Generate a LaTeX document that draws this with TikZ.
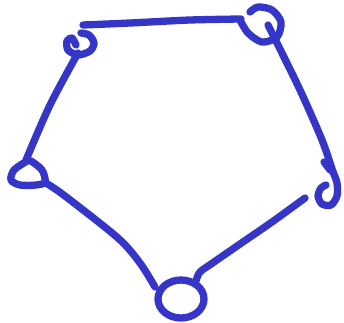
\documentclass[tikz,border=0pt]{standalone}
\definecolor{stift}{HTML}{3535C8}
\tikzset{strich/.style={draw=stift,line width=7.3pt,line cap=round,line join=round}}
\begin{document}
\begin{tikzpicture}[x=1pt,y=-1pt]
\useasboundingbox (0,0) rectangle (344,322);

% Mittelpunkt unten
\coordinate (unten) at (181,299);

% Kanten
\draw[strich] plot[smooth] coordinates {(83,25) (130,23) (190,20) (241,19)};
\draw[strich] plot[smooth] coordinates {(268,25) (276,41) (300,90) (322,140) (333,172)};
\draw[strich] plot[smooth] coordinates {(305,198) (272,222) (240,244) (214,262) (200,272) (196,281)};
\draw[strich] plot[smooth] coordinates {(155,287) (140,263) (118,238) (65,196) (46,183)};
\draw[strich] plot[smooth] coordinates {(26,160) (50,105) (78,53)};

% Schlaufen
\draw[strich] plot[smooth] coordinates {(76,45) (72,38) (67,41) (68,50) (78,55) (90,51) (94,43) (89,35) (81,33)};
\draw[strich] plot[smooth] coordinates {(240,20) (248,33) (262,42) (277,37) (281,22) (272,10) (258,7) (250,12)};
\draw[strich] plot[smooth] coordinates {(333,172) (337,183) (337,196) (331,205) (322,204) (318,196) (321,188) (326,185)};
\draw[strich] (324,162) -- (330,170);
\draw[strich] (unten) ellipse (23 and 19);
\draw[strich] plot[smooth] coordinates {(27,161) (14,170) (11,180) (20,185) (36,185) (45,182) (42,170) (31,161) (27,161)};
\end{tikzpicture}
\end{document}
